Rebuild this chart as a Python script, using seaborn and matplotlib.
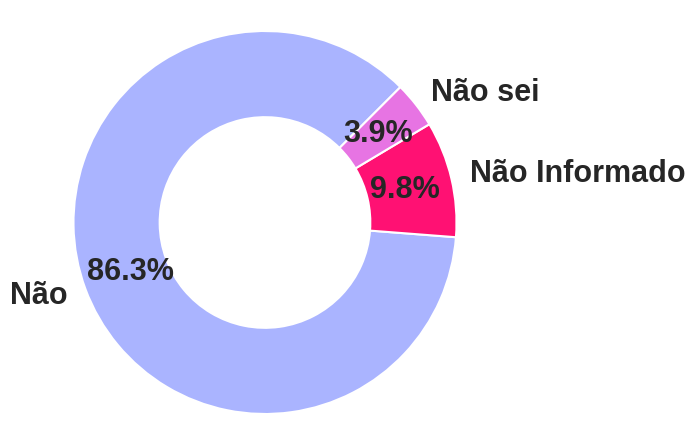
import matplotlib
matplotlib.use("Agg")
import matplotlib.pyplot as plt
import seaborn as sns

sns.set_theme(style="white")
plt.rcParams['font.family'] = ['Liberation Sans', 'DejaVu Sans']

categories = ["Não", "Não Informado", "Não sei"]
counts = [44, 5, 2]
colors = ["#aab4ff", "#ff1173", "#e774e3"]

fig = plt.figure(figsize=(6.97, 4.46), dpi=100)
ax = fig.add_axes([0, 0, 1, 1])

wedges, texts, autotexts = ax.pie(
    counts, labels=categories, colors=colors, autopct='%1.1f%%',
    startangle=45, pctdistance=0.75, labeldistance=1.1,
    wedgeprops={'width': 0.45, 'edgecolor': 'white', 'linewidth': 1.5},
    textprops={'fontsize': 22, 'fontweight': 'bold', 'color': '#262626'},
)

# put the pie centre at (265, 222.5) px with a radius of 191.5 px
r_px = 191.5
ax.set_aspect('auto')
ax.set_xlim(-265 / r_px, (697 - 265) / r_px)
ax.set_ylim((222.5 - 446) / r_px, 222.5 / r_px)
ax.axis('off')

fig.savefig("out.png", dpi=100)
